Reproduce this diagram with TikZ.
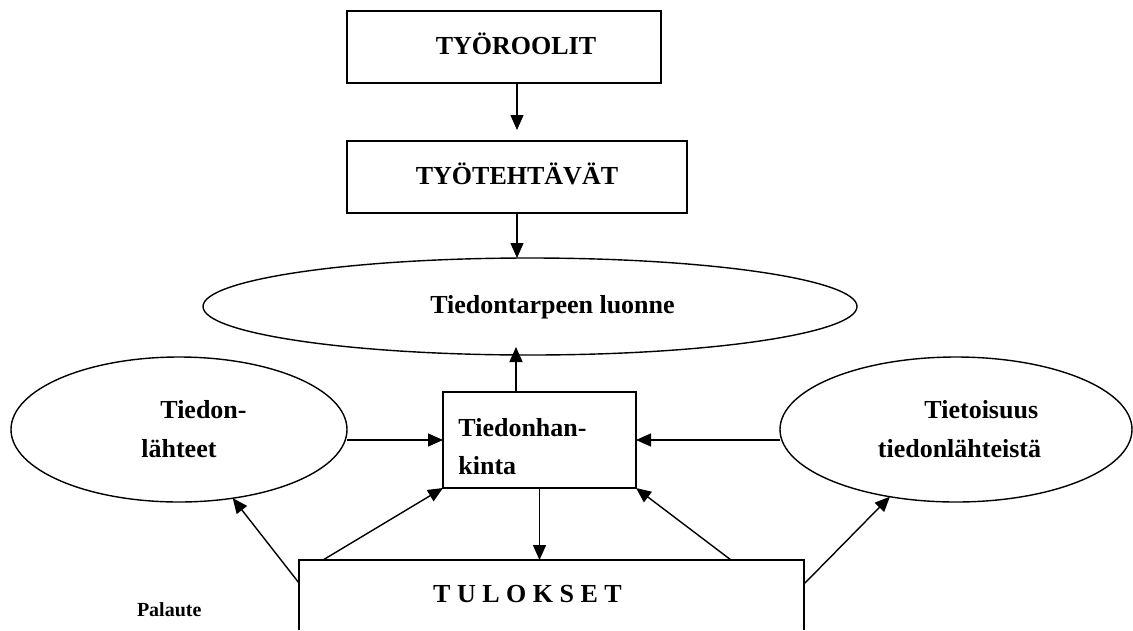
\documentclass[tikz,border=0pt]{standalone}
\usepackage{fontspec}
\setmainfont{Liberation Serif}
\usetikzlibrary{arrows.meta,shapes.geometric}
\tikzset{
  base/.style={inner sep=0pt, outer sep=0pt, font=\bfseries\fontsize{26}{39}\selectfont},
  boxnode/.style={base, draw, line width=1.6pt, rectangle},
  ellnode/.style={base, draw, line width=1.4pt, ellipse},
  one/.style={text height=18pt, text depth=4pt},
  arr/.style={line width=1.4pt, -{Triangle[length=15pt,width=13pt]}}
}
\begin{document}
\begin{tikzpicture}[x=1pt,y=-1pt]
\useasboundingbox (0,0) rectangle (1133,630);
\node[boxnode, one, minimum width=314pt, minimum height=72pt] (R1) at (504,47) {\hspace*{24pt}TYÖROOLIT};
\node[boxnode, one, minimum width=340pt, minimum height=72pt] (R2) at (517,177) {TYÖTEHTÄVÄT};
\node[ellnode, one, minimum width=654pt, minimum height=97pt] (E) at (530,306.5) {\hspace*{45pt}Tiedontarpeen luonne};
\node[ellnode, align=left, minimum width=336pt, minimum height=145pt] (L) at (179,429.5) {\hspace*{49pt}Tiedon-\\\hspace*{30pt}lähteet};
\node[ellnode, align=right, minimum width=352pt, minimum height=145pt] (Rt) at (956,429.5) {Tietoisuus\hspace*{3pt}\\\hspace*{7pt}tiedonlähteistä};
\node[boxnode, align=left, font=\bfseries\fontsize{26}{38}\selectfont, minimum width=193pt, minimum height=96pt] (B) at (539.5,440) {\rule{0pt}{32pt}Tiedonhan-\hspace*{34pt}\\kinta};
\node[base, one, minimum width=505pt, minimum height=70pt] (T) at (551.5,595) {T U L O K S E T\hspace*{48pt}};
\draw[line width=1.6pt] (T.south west) -- (T.north west) -- (T.north east) -- (T.south east);
\node[base, anchor=base west, font=\bfseries\fontsize{20}{24}\selectfont] (P) at (137,616) {Palaute};
% connectors
\draw[arr, shorten >=11pt] (R1.south -| R2.north) -- (R2.north);
\draw[arr] (R2.south) -- (R2.south |- E.north);
\draw[arr, shorten >=-8pt] ([xshift=-23.5pt]B.north) -- ([xshift=-23.5pt]B.north |- E.south);
\draw[arr] (L.east |- B.west) -- (B.west);
\draw[arr] (Rt.west |- B.east) -- (B.east);
\draw[arr] (B.south) -- (B.south |- T.north);
\draw[arr] ([xshift=24pt]T.north west) -- (B.south west);
\draw[arr] ([xshift=-73pt]T.north east) -- (B.south east);
\draw[arr] ([yshift=-23pt]T.north west) -- (L);
\draw[arr] ([yshift=-24pt]T.north east) -- (Rt);
\end{tikzpicture}
\end{document}
